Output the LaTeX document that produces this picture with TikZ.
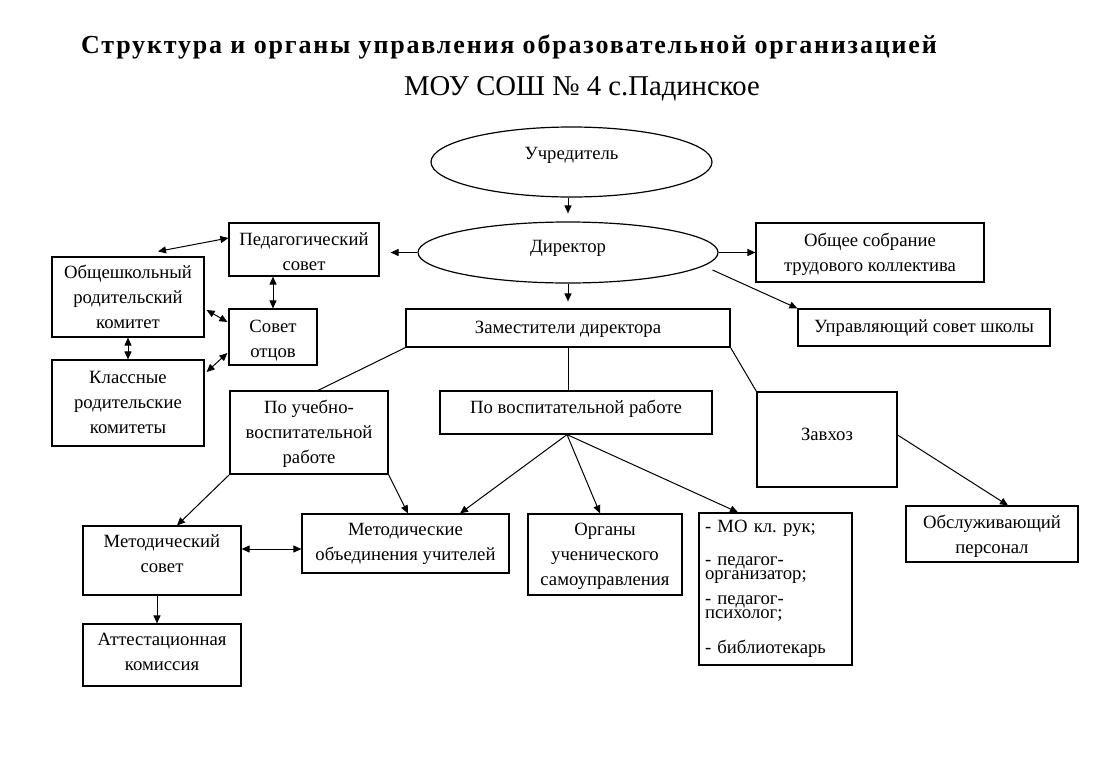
\documentclass[tikz,border=0pt]{standalone}
\usepackage{fontspec}
\setmainfont{Liberation Serif}
\newfontfamily\titlefont[LetterSpace=7]{Liberation Serif}
\usetikzlibrary{shapes.geometric,arrows.meta}
\newcommand\tx[2]{\ifdim#1pt<0pt \raisebox{0pt}[-#1pt][0pt]{\begin{tabular}{@{}c@{}}#2\end{tabular}}\else\raisebox{0pt}[0pt][#1pt]{\begin{tabular}{@{}c@{}}#2\end{tabular}}\fi}
\begin{document}
\frenchspacing
\begin{tikzpicture}[x=1pt,y=-1pt,
  sz/.style 2 args={minimum width=#1pt, minimum height=#2pt},
  box/.style={draw, line width=1.2pt, inner sep=0pt, font=\fontsize{18.7}{25}\selectfont},
  ell/.style={box, ellipse},
  ln/.style={line width=1pt},
  arr/.style={ln, -{Triangle[length=8pt,width=7pt]}},
  darr/.style={ln, {Triangle[length=8pt,width=7pt]}-{Triangle[length=8pt,width=7pt]}}]
\useasboundingbox (0,0) rectangle (1114,766);
\fill[white] (0,0) rectangle (1114,766);

\node[anchor=base, font=\fontsize{26}{30}\selectfont\titlefont\bfseries] (t1) at (509,53) {Структура и органы управления образовательной организацией};
\node[anchor=base, font=\fontsize{28.7}{32}\selectfont] (t2) at (582,95) {МОУ СОШ № 4 с.Падинское};

\node[ell, sz={281}{70}] (uch) at (571.5,162) {\tx{6.6}{Учредитель}};
\node[ell, sz={300}{61}] (dir) at (568,252.5) {\tx{1.6}{Директор}};
\node[box, sz={150}{53}] (ped) at (304,249.5) {\tx{-16.4}{Педагогический\\совет}};
\node[box, sz={152}{80}] (obsh) at (128,297) {\tx{-11.4}{Общешкольный\\родительский\\комитет}};
\node[box, sz={88}{56}] (otcy) at (273,337) {\tx{-14.4}{Совет\\отцов}};
\node[box, sz={152}{86}] (klass) at (128,403) {\tx{-9.4}{Классные\\родительские\\комитеты}};
\node[box, sz={228}{59}] (sobr) at (870,252.5) {\tx{-12.4}{Общее собрание\\трудового коллектива}};
\node[box, sz={252}{37}] (upr) at (924,327.5) {\tx{-8.4}{Управляющий совет школы}};
\node[box, sz={324}{38}] (zam) at (568,328) {\tx{-9.4}{Заместители директора}};
\node[box, sz={158}{83}] (puv) at (309,432.5) {\tx{-10.4}{По учебно-\\воспитательной\\работе}};
\node[box, sz={272}{43}] (pvr) at (576,412.5) {\tx{-0.4}{По воспитательной работе}};
\node[box, sz={140}{95}] (zav) at (827,439.5) {\tx{-0.4}{Завхоз}};
\node[box, sz={172}{56}] (obsl) at (992,534) {\tx{-12.4}{Обслуживающий\\персонал}};
\node[box, sz={154}{81}] (org) at (605,554.5) {\tx{-10.4}{Органы\\ученического\\самоуправления}};
\node[box, sz={207}{59}] (mou) at (405.5,543.5) {\tx{-7.4}{Методические\\объединения учителей}};
\node[box, sz={158}{69}] (metsov) at (162,560.5) {\tx{2.6}{Методический\\совет}};
\node[box, sz={158}{62}] (att) at (162,655) {\tx{-4.4}{Аттестационная\\комиссия}};
\node[box, sz={153}{152}, text width=141pt, align=left, font=\fontsize{18.7}{14.5}\selectfont] (spis) at (775.5,589)
  {- МО кл. рук;\\[18pt]- педагог-\\организатор;\\[10pt]- педагог-\\психолог;\\[18pt]- библиотекарь};

\draw[arr, shorten >=8pt] (uch.south -| dir.north) -- (dir.north);
\draw[arr, shorten >=7pt] (dir.south) -- (zam.north);
\draw[arr, shorten >=11pt] (dir.west) -- (ped.east |- dir.west);
\draw[arr] (dir.east) -- (sobr.west |- dir.east);
\draw[arr] ([shift={(20,0)}]dir.-8) -- (upr.north west);

\draw[darr] ([shift={(30,-5)}]obsh.north) -- ([shift={(0,-11.5)}]ped.west);
\draw[darr] (otcy.north |- ped.south) -- (otcy.north);
\draw[darr] ([shift={(2,13)}]obsh.east) -- ([shift={(-1,-15)}]otcy.west);
\draw[darr] (obsh.south) -- (klass.north);
\draw[darr] ([shift={(-1,16)}]otcy.west) -- ([shift={(2,-31)}]klass.east);

\draw[ln] (zam.south west) -- ([xshift=9pt]puv.north);
\draw[ln] (zam.south) -- (pvr.north -| zam.south);
\draw[ln] (zam.south east) -- (zav.north west);
\draw[arr] ([yshift=4.5pt]zav.east) -- ([xshift=16pt]obsl.north);

\draw[arr] ([xshift=-9pt]pvr.south) -- ([xshift=54.5pt]mou.north);
\draw[arr] ([xshift=-9pt]pvr.south) -- ([xshift=-5pt]org.north);
\draw[arr] ([xshift=-9pt]pvr.south) -- ([xshift=-37.5pt]spis.north);
\draw[arr] (puv.south east) -- ([xshift=2.5pt]mou.north);
\draw[arr] (puv.south west) -- ([xshift=15pt]metsov.north);
\draw[darr] ([yshift=11.5pt]metsov.east) -- ([yshift=-5.5pt]mou.west);
\draw[arr] ([xshift=-5pt]metsov.south) -- ([xshift=-5pt]att.north);
\end{tikzpicture}
\end{document}
